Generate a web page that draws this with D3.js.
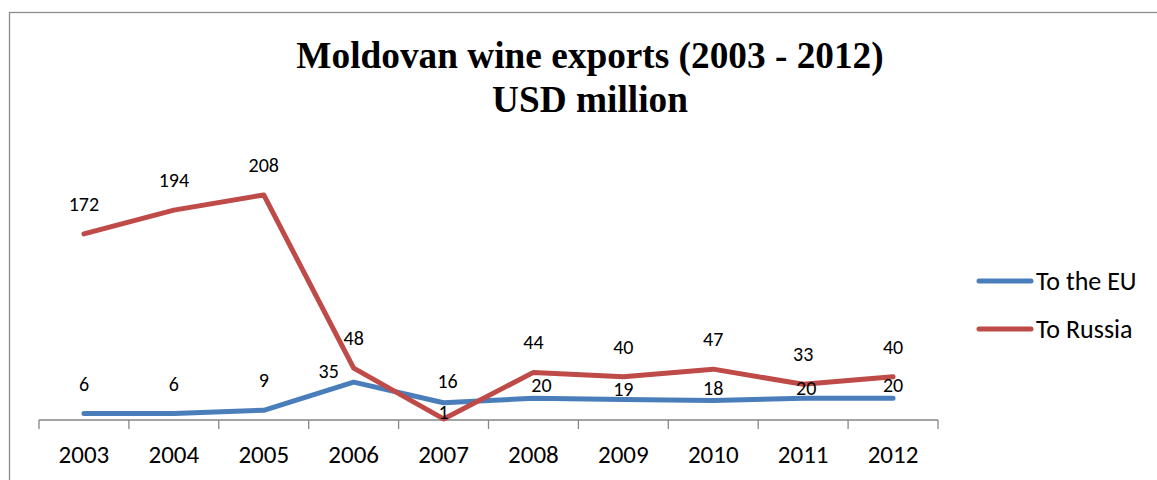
<!DOCTYPE html>
<html>
<head>
<meta charset="utf-8">
<script src="https://cdn.jsdelivr.net/npm/d3@7"></script>
<style>
  html, body { margin: 0; padding: 0; background: #fff; }
  svg { display: block; }
</style>
</head>
<body>
<svg id="chart" width="1157" height="480"></svg>
<script>
// Moldovan wine exports, USD million
const years = ["2003", "2004", "2005", "2006", "2007", "2008", "2009", "2010", "2011", "2012"];
const toEU = [6, 6, 9, 35, 16, 20, 19, 18, 20, 20];
const toRussia = [172, 194, 208, 48, 1, 44, 40, 47, 33, 40];
const seriesNames = ["To the EU", "To Russia"];

// Hand-placed label nudges (px) so the value labels don't overlap each other
const euLabelNudge = [[0, 0], [0, 0], [0, 0], [-25, 19], [4, 8], [8, 17], [0, 20], [0, 17], [3, 20], [0, 17]];
const ruLabelNudge = [[0, 0], [0, 0], [0, 0], [0, 0], [0, 23], [0, 0], [0, 0], [0, 0], [0, 0], [0, 0]];

const svg = d3.select("#chart");
const bodyFont = "Carlito, Calibri, 'Open Sans', sans-serif";

// outer chart frame
svg.append("rect")
  .attr("x", 9.5).attr("y", 12.5)
  .attr("width", 1200).attr("height", 520)
  .attr("fill", "none").attr("stroke", "#8c8c8c").attr("stroke-width", 1.3);

// title
const title = svg.append("text")
  .attr("text-anchor", "middle")
  .attr("font-family", "'Liberation Serif', 'Times New Roman', serif")
  .attr("font-weight", "bold")
  .attr("font-size", 37.3)
  .attr("fill", "#000");
title.append("tspan").attr("x", 590).attr("y", 68).text("Moldovan wine exports (2003 - 2012)");
title.append("tspan").attr("x", 590).attr("y", 112).text("USD million");

const x = d3.scaleBand().domain(years).range([39, 938]).padding(0);
const y = d3.scaleLinear().domain([0, 250]).range([420, 149.5]);
const cx = d => x(d) + x.bandwidth() / 2;

// category axis: ticks on the band boundaries
const axisG = svg.append("g").attr("transform", `translate(0,${y(0)})`);
axisG.append("line")
  .attr("x1", x.range()[0]).attr("x2", x.range()[1])
  .attr("stroke", "#868686").attr("stroke-width", 1.3);
const boundaries = years.map(d => x(d)).concat([x.range()[1]]);
axisG.selectAll("line.tick").data(boundaries).join("line")
  .attr("class", "tick")
  .attr("x1", d => d).attr("x2", d => d)
  .attr("y1", 0).attr("y2", 9)
  .attr("stroke", "#868686").attr("stroke-width", 1.3);
axisG.selectAll("text.year").data(years).join("text")
  .attr("class", "year")
  .attr("x", d => cx(d)).attr("y", 43)
  .attr("text-anchor", "middle")
  .attr("font-family", bodyFont)
  .attr("font-size", 25)
  .attr("fill", "#000")
  .text(d => d);

const series = [
  { name: seriesNames[0], values: toEU, color: "#4a7ebb", nudge: euLabelNudge },
  { name: seriesNames[1], values: toRussia, color: "#be4b48", nudge: ruLabelNudge }
];

const line = d3.line()
  .x((v, i) => cx(years[i]))
  .y(v => y(v));

series.forEach(s => {
  svg.append("path")
    .datum(s.values)
    .attr("d", line)
    .attr("fill", "none")
    .attr("stroke", s.color)
    .attr("stroke-width", 5)
    .attr("stroke-linejoin", "round")
    .attr("stroke-linecap", "round");
});

// value labels above each point
series.forEach(s => {
  svg.append("g").selectAll("text").data(s.values).join("text")
    .attr("x", (v, i) => cx(years[i]) + s.nudge[i][0])
    .attr("y", (v, i) => y(v) - 30 + s.nudge[i][1])
    .attr("dy", "0.35em")
    .attr("text-anchor", "middle")
    .attr("font-family", bodyFont)
    .attr("font-size", 20)
    .attr("fill", "#000")
    .text(v => v);
});

// legend
const legend = svg.append("g");
series.forEach((s, i) => {
  const ly = 281 + i * 48;
  legend.append("line")
    .attr("x1", 979).attr("x2", 1031)
    .attr("y1", ly).attr("y2", ly)
    .attr("stroke", s.color).attr("stroke-width", 5)
    .attr("stroke-linecap", "round");
  legend.append("text")
    .attr("x", 1036).attr("y", ly)
    .attr("dy", "0.35em")
    .attr("font-family", bodyFont)
    .attr("font-size", 26)
    .attr("fill", "#000")
    .text(s.name);
});
</script>
</body>
</html>
